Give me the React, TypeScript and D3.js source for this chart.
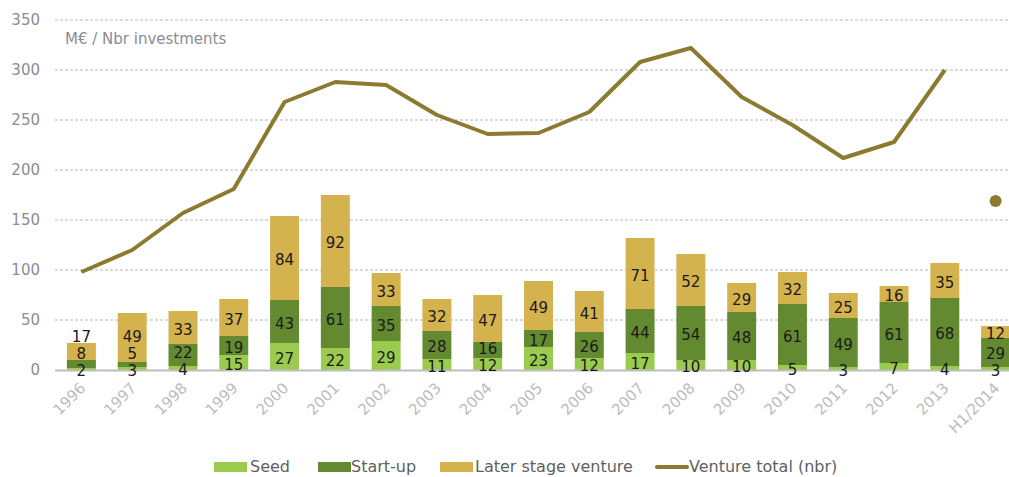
import React from "react";
import * as d3 from "d3";

const categories = ["1996","1997","1998","1999","2000","2001","2002","2003","2004","2005","2006","2007","2008","2009","2010","2011","2012","2013","H1/2014"];
const seed = [2,3,4,15,27,22,29,11,12,23,12,17,10,10,5,3,7,4,3];
const startUp = [8,5,22,19,43,61,35,28,16,17,26,44,54,48,61,49,61,68,29];
const laterStage = [17,49,33,37,84,92,33,32,47,49,41,71,52,29,32,25,16,35,12];
const ventureTotal = [98,120,157,181,268,288,285,255,236,237,258,308,322,273,245,212,228,300,null];
const ventureTotalH1 = 169;
const yTicks = [0,50,100,150,200,250,300,350];
const seriesNames = ["Seed","Start-up","Later stage venture"];

const W = 1009, H = 477;
const colors = ["#9ACA4E", "#648A31", "#D4B24D"];
const lineColor = "#8C7A30";
const FONT = "'DejaVu Sans', sans-serif";

export default function App() {
  const x = d3.scaleBand<string>().domain(categories).range([56, 1021]).paddingInner(0.43).paddingOuter(0.215);
  const y = d3.scaleLinear().domain([0, 350]).range([370, 20]);
  const bw = x.bandwidth();
  const rows = categories.map((c, i) => ({ c, vals: [seed[i], startUp[i], laterStage[i]] }));
  const stack = d3.stack<any>().keys(["0","1","2"]).value((d: any, k: string) => d.vals[+k])(rows as any);

  const line = d3.line<any>()
    .defined((d) => d[1] != null)
    .x((d) => (x(d[0]) as number) + bw / 2)
    .y((d) => y(d[1]));
  const linePts = categories.map((c, i) => [c, ventureTotal[i]]);

  const labels: any[] = [];
  categories.forEach((c, i) => {
    let prev = Infinity;
    for (let k = 0; k < 3; k++) {
      const s = stack[k][i];
      const nat = y((s[0] + s[1]) / 2) + 2;
      const yy = Math.min(nat, prev - 17);
      prev = yy;
      labels.push({ x: (x(c) as number) + bw / 2, y: yy, t: String(rows[i].vals[k]) });
    }
  });

  const legend = [
    { sx: 214, tx: 250, name: seriesNames[0], color: colors[0] },
    { sx: 318, tx: 351, name: seriesNames[1], color: colors[1] },
    { sx: 440, tx: 475, name: seriesNames[2], color: colors[2] },
  ];

  return (
    <svg width={W} height={H} style={{ position: "absolute", left: 0, top: 0, background: "#fff" }} fontFamily={FONT}>
      {yTicks.filter((t) => t > 0).map((t) => (
        <line key={t} x1={55} x2={W} y1={y(t)} y2={y(t)} stroke="#b5b5b5" strokeWidth={1} strokeDasharray="3,2" />
      ))}
      {yTicks.map((t) => (
        <text key={t} x={40} y={y(t)} dy="0.35em" textAnchor="end" fontSize={15} fill="#8a8d96">{t}</text>
      ))}
      <text x={65} y={44} fontSize={15} fill="#8a8d96">M€ / Nbr investments</text>
      {stack.map((layer, k) => (
        <g key={k} fill={colors[k]}>
          {layer.map((s, i) => (
            <rect key={i} x={x(categories[i])} y={y(s[1])} width={bw} height={y(s[0]) - y(s[1])} />
          ))}
        </g>
      ))}
      <line x1={55} x2={W} y1={370.5} y2={370.5} stroke="#bdbdbd" strokeWidth={2} />
      {labels.map((l, i) => (
        <text key={i} x={l.x} y={l.y} dy="0.36em" textAnchor="middle" fontSize={15} fill="#1a1a1a">{l.t}</text>
      ))}
      <path d={line(linePts) || ""} fill="none" stroke={lineColor} strokeWidth={4} strokeLinejoin="round" />
      <circle cx={(x("H1/2014") as number) + bw / 2} cy={y(ventureTotalH1)} r={6} fill={lineColor} />
      {categories.map((c) => {
        const cx = (x(c) as number) + bw / 2 + 5;
        return (
          <text key={c} transform={`translate(${cx},389) rotate(-45)`} textAnchor="end" fontSize={15} fill="#bcbcbc">{c}</text>
        );
      })}
      <g fontSize={16} fill="#5f5f5f">
        {legend.map((l) => (
          <g key={l.name}>
            <rect x={l.sx} y={462} width={33} height={10} fill={l.color} />
            <text x={l.tx} y={472}>{l.name}</text>
          </g>
        ))}
        <line x1={657} x2={687} y1={467} y2={467} stroke={lineColor} strokeWidth={4} strokeLinecap="round" />
        <text x={689} y={472}>Venture total (nbr)</text>
      </g>
    </svg>
  );
}
